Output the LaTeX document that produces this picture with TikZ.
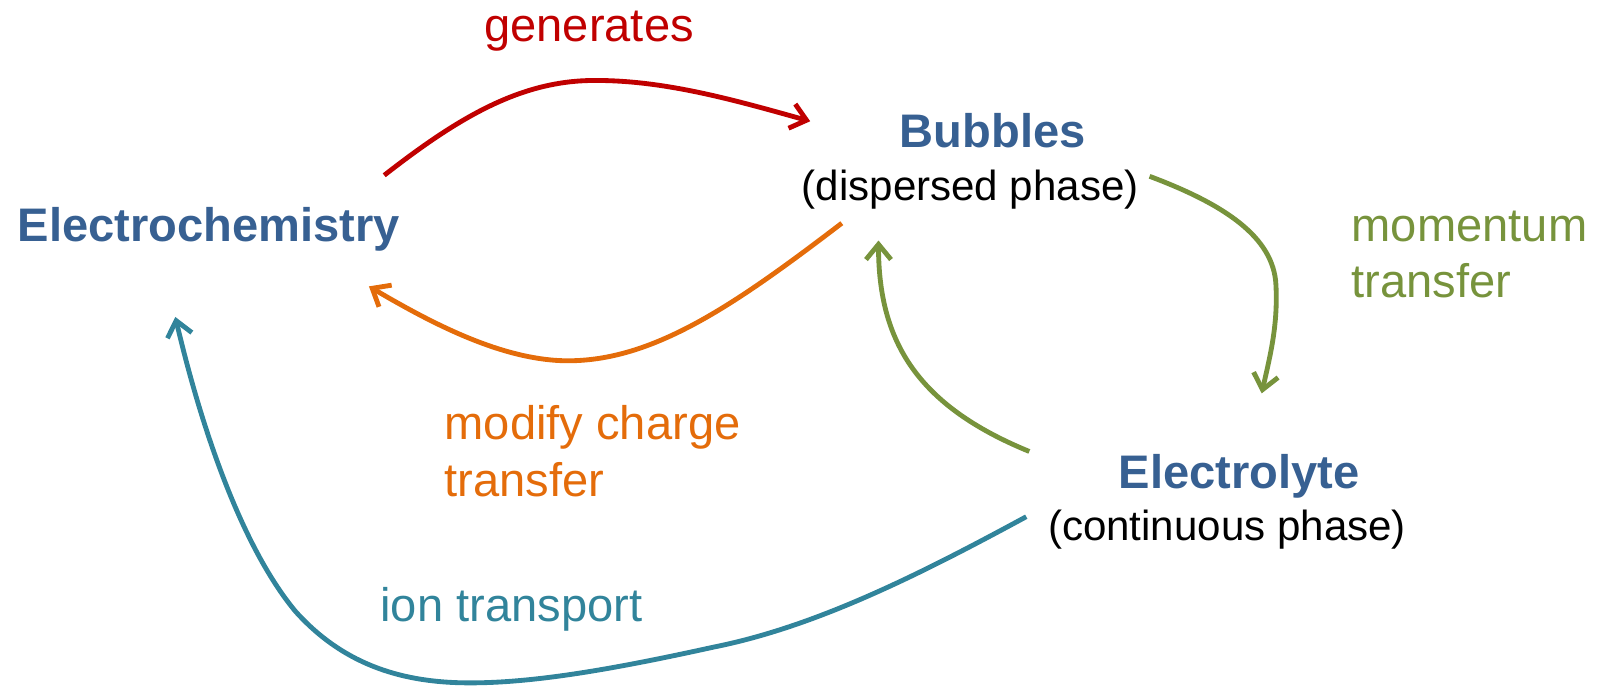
\documentclass[tikz,border=0pt]{standalone}
\usepackage{fontspec}
\setmainfont{Liberation Sans}
\usetikzlibrary{arrows.meta}
\definecolor{titleblue}{HTML}{376092}
\definecolor{genred}{HTML}{C00000}
\definecolor{modorange}{HTML}{E46C0A}
\definecolor{momgreen}{HTML}{77933C}
\definecolor{ionteal}{HTML}{31849B}
\tikzset{
  title/.style={inner sep=0pt, anchor=base, text=titleblue, font=\fontsize{26.3}{31.7}\selectfont\bfseries},
  subtitle/.style={inner sep=0pt, anchor=base, text=black, font=\fontsize{23.5}{28}\selectfont},
  lbl/.style={inner sep=0pt, font=\fontsize{26.3}{31.7}\selectfont},
  link/.style={line width=2.7pt, -{Straight Barb[length=8.5pt,width=14pt]}},
}
\begin{document}
\begin{tikzpicture}[x=0.02cm, y=-0.02cm]
\useasboundingbox (0,0) rectangle (1568,675);
% nodes
\node[title] (echem) at (205,236.5) {Electrochemistry};
\node[title] (bub) at (974,145) {Bubbles};
\node[subtitle] (bubsub) at (952,197) {(dispersed phase)};
\node[title] (elyte) at (1216,479) {Electrolyte};
\node[subtitle] (elytesub) at (1204,530) {(continuous phase)};
% labels
\node[lbl, anchor=base, text=genred] (lgen) at (578,41) {generates};
\node[lbl, anchor=base west, text=momgreen] (lmom) at (1326,236.5)
  {\begin{tabular}[t]{@{}l@{}}momentum\\transfer\end{tabular}};
\node[lbl, anchor=base west, text=modorange] (lmod) at (436,431)
  {\begin{tabular}[t]{@{}l@{}}modify charge\\transfer\end{tabular}};
\node[lbl, anchor=base west, text=ionteal] (lion) at (373,610) {ion transport};
% connector ends
\coordinate (genS) at (377,172);
\coordinate (genE) at (795,119);
\coordinate (modS) at (826,219);
\coordinate (modE) at (362,281);
\coordinate (momS) at (1128,173);
\coordinate (momE) at (1238,386);
\coordinate (backS) at (1010,443);
\coordinate (backE) at (862,236);
\coordinate (ionS) at (1007,507);
\coordinate (ionE) at (172,311);
% connectors
\draw[link, genred] (genS) .. controls (450,115) and (510,80) .. (580,79)
  .. controls (650,78) and (720,98) .. (genE);
\draw[link, modorange] (modS) .. controls (720,300) and (640,355) .. (555,354)
  .. controls (490,353) and (420,315) .. (modE);
\draw[link, momgreen] (momS) .. controls (1200,200) and (1250,232) .. (1252,280)
  .. controls (1254,320) and (1246,350) .. (momE);
\draw[link, momgreen] (backS) .. controls (900,398) and (862,335) .. (backE);
\draw[link, ionteal] (ionS) .. controls (900,565) and (800,615) .. (700,635)
  .. controls (600,657) and (520,671) .. (455,670)
  .. controls (390,669) and (335,650) .. (290,600)
  .. controls (240,540) and (200,430) .. (ionE);
\end{tikzpicture}
\end{document}
